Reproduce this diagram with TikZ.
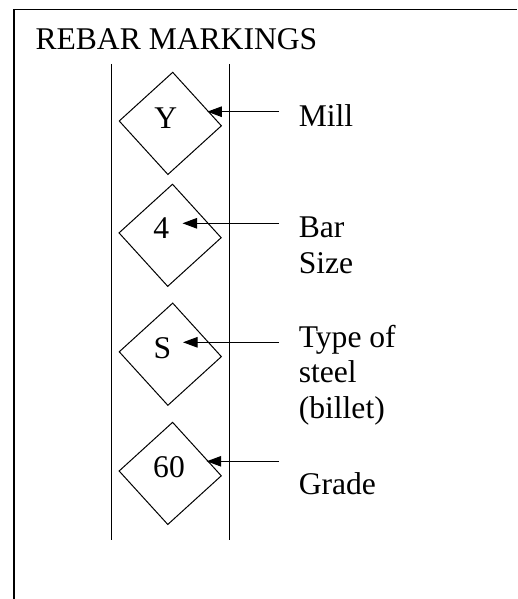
\documentclass[tikz,border=0pt]{standalone}
\usepackage{fontspec}
\setmainfont{Liberation Serif}
\usetikzlibrary{arrows.meta}
\begin{document}
\begin{tikzpicture}[x=1pt,y=-1pt,
  line width=1pt,
  frameline/.style={line width=1.4pt},
  railline/.style={line width=1pt},
  dia/.style={draw, shape=rectangle, minimum size=72.3pt, inner sep=0pt, rotate=42.3},
  lab/.style={font=\fontsize{31.6}{35.5}\selectfont, inner sep=0pt, anchor=base west, align=left},
  sym/.style={font=\fontsize{31.6}{35.5}\selectfont, inner sep=0pt, anchor=base},
  pointer/.style={-{Triangle[length=14.5pt,width=10.5pt]}, line width=1pt}]
\useasboundingbox (0,0) rectangle (517,599);
% frame
\coordinate (fbl) at (14,599);
\coordinate (ftl) at (14,9.5);
\coordinate (ftr) at (517,9.5);
\draw[frameline] (fbl) -- (ftl) -- (ftr);
\node[lab] (title) at (35,50) {REBAR MARKINGS};
% rails
\coordinate (lt) at (111,64);
\coordinate (lb) at (111,540);
\coordinate (rt) at (229.7,64);
\coordinate (rb) at (229.7,540);
\draw[railline] (lt) -- (lb);
\draw[railline] (rt) -- (rb);
% diamonds
\node[dia] (d1) at (170.3,123.4) {};
\node[dia] (d2) at (170.1,235.3) {};
\node[dia] (d3) at (170.3,354.2) {};
\node[dia] (d4) at (170.2,473.4) {};
\node[sym] (s1) at (165.7,128.3) {Y};
\node[sym] (s2) at (161.2,238.5) {4};
\node[sym] (s3) at (162.3,358.3) {S};
\node[sym] (s4) at (169,477.3) {60};
% labels (base anchor = baseline of the last line)
\node[lab] (l1) at (298.3,126.7) {Mill};
\node[lab] (l2) at (298.3,273.3) {Bar\\Size};
\node[lab] (l3) at (298.3,418.3) {Type of\\steel\\(billet)};
\node[lab] (l4) at (298.3,494) {Grade};
% pointers
\coordinate (t1) at (279,111.7);
\coordinate (h1) at (207.3,111.7);
\coordinate (t2) at (279,223.3);
\coordinate (h2) at (182.5,223.3);
\coordinate (t3) at (279,342.3);
\coordinate (h3) at (183,342.3);
\coordinate (t4) at (279,461.3);
\coordinate (h4) at (206.7,461.3);
\draw[pointer] (t1) -- (h1);
\draw[pointer] (t2) -- (h2);
\draw[pointer] (t3) -- (h3);
\draw[pointer] (t4) -- (h4);
\end{tikzpicture}
\end{document}
